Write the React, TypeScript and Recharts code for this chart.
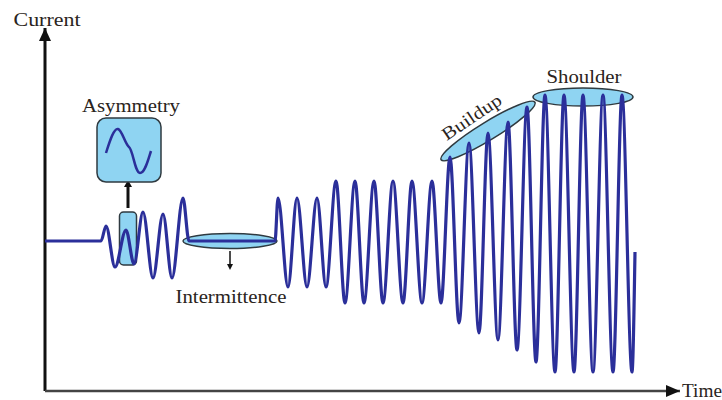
import { LineChart, Line, XAxis, YAxis, ReferenceLine, ReferenceDot } from 'recharts';

// waveform extrema (time units, current units; 0 = rest level)
const time = [
  0, 56, 61, 70, 81, 89, 98, 108, 118, 127, 138, 144, 230,
  233, 243, 252, 262, 272, 281,
  291, 300, 310, 319, 329, 338, 348, 358, 367, 377, 387, 396,
  405, 414, 424, 434, 443, 453, 463, 472, 482, 491,
  500, 510, 519, 529, 538, 548, 558, 568, 577, 587, 590,
];
const current = [
  0, 0, 15, -26, 11, -23, 29, -37, 27, -37, 43, 0, 0,
  43, -46, 43, -46, 43, -46,
  60, -62, 60, -62, 60, -62, 60, -62, 60, -62, 60, -62,
  84, -82, 98, -92, 108, -99, 119, -109, 134, -121,
  146, -131, 146, -131, 146, -131, 146, -131, 146, -131, -11,
];

const labels = {
  yAxis: 'Current',
  xAxis: 'Time',
  asymmetry: 'Asymmetry',
  intermittence: 'Intermittence',
  buildup: 'Buildup',
  shoulder: 'Shoulder',
};

const data = time.map((t, i) => ({ t, c: current[i] }));

const WAVE = '#2b2f9a';
const FILL = '#8fd4f2';
const EDGE = '#2f3a40';
const TEXT = '#2a2420';
const FONT = '"Liberation Serif", "DejaVu Serif", serif';

const Label = ({ x, y, text, width, rotate }: any) => (
  <text
    x={x}
    y={y}
    textAnchor="middle"
    style={{ fontFamily: FONT, fontSize: 18 }}
    fill={TEXT}
    textLength={width}
    lengthAdjust="spacingAndGlyphs"
    transform={rotate ? `rotate(${rotate} ${x} ${y})` : undefined}
  >
    {text}
  </text>
);

export default function App() {
  return (
    <div style={{ position: 'absolute', left: 0, top: 0, width: 722, height: 400, background: '#fff' }}>
      <LineChart width={722} height={400} data={data} margin={{ top: 28, right: 42, left: 45, bottom: 9 }}>
        <XAxis type="number" dataKey="t" domain={[0, 635]} hide />
        <YAxis type="number" domain={[-150, 213]} hide />

        {/* annotation shapes sit under the wave */}
        <ReferenceDot
          x={83}
          y={3}
          ifOverflow="visible"
          zIndex={100}
          shape={(p: any) => (
            <g>
              <rect x={p.cx - 8.5} y={p.cy - 26} width={17} height={53} rx={4} fill={FILL} stroke={EDGE} strokeWidth={1.5} />
              <line x1={p.cx} y1={p.cy - 30} x2={p.cx} y2={p.cy - 52} stroke="#111" strokeWidth={3} />
              <path d={`M${p.cx - 4} ${p.cy - 51} L${p.cx + 4} ${p.cy - 51} L${p.cx} ${p.cy - 58} Z`} fill="#111" />
            </g>
          )}
        />
        <ReferenceDot
          x={185}
          y={0}
          ifOverflow="visible"
          zIndex={100}
          shape={(p: any) => (
            <g>
              <ellipse cx={p.cx} cy={p.cy} rx={47} ry={7.5} fill={FILL} stroke={EDGE} strokeWidth={1.5} />
              <line x1={p.cx} y1={p.cy + 10} x2={p.cx} y2={p.cy + 24} stroke="#111" strokeWidth={1.5} />
              <path d={`M${p.cx - 3} ${p.cy + 23} L${p.cx + 3} ${p.cy + 23} L${p.cx} ${p.cy + 29} Z`} fill="#111" />
            </g>
          )}
        />
        <ReferenceDot
          x={443}
          y={110}
          ifOverflow="visible"
          zIndex={100}
          shape={(p: any) => (
            <ellipse cx={p.cx} cy={p.cy} rx={55} ry={9} transform={`rotate(-31.5 ${p.cx} ${p.cy})`} fill={FILL} stroke={EDGE} strokeWidth={1.5} />
          )}
        />
        <ReferenceDot
          x={538}
          y={144}
          ifOverflow="visible"
          zIndex={100}
          shape={(p: any) => <ellipse cx={p.cx} cy={p.cy} rx={50} ry={9} fill={FILL} stroke={EDGE} strokeWidth={1.5} />}
        />

        {/* axes with arrow heads */}
        <ReferenceLine x={0} stroke="#111" strokeWidth={3} />
        <ReferenceLine y={-150} stroke="#444" strokeWidth={2.5} />
        <ReferenceDot
          x={0}
          y={213}
          ifOverflow="visible"
          shape={(p: any) => <path d={`M${p.cx} ${p.cy} L${p.cx - 6} ${p.cy + 13} L${p.cx + 6} ${p.cy + 13} Z`} fill="#111" />}
        />
        <ReferenceDot
          x={635}
          y={-150}
          ifOverflow="visible"
          shape={(p: any) => <path d={`M${p.cx} ${p.cy} L${p.cx - 14} ${p.cy - 6} L${p.cx - 14} ${p.cy + 6} Z`} fill="#111" />}
        />

        <Line
          type="monotone"
          dataKey="c"
          stroke={WAVE}
          strokeWidth={3.2}
          dot={false}
          activeDot={false}
          isAnimationActive={false}
          zIndex={400}
        />

        {/* asymmetry inset */}
        <ReferenceDot
          x={84}
          y={91}
          ifOverflow="visible"
          shape={(p: any) => (
            <g>
              <rect x={p.cx - 32} y={p.cy - 32} width={64} height={64} rx={9} fill={FILL} stroke={EDGE} strokeWidth={1.5} />
              <path
                d={`M${p.cx - 23} ${p.cy + 3} C${p.cx - 19} ${p.cy - 10} ${p.cx - 15} ${p.cy - 22} ${p.cx - 11} ${p.cy - 21} C${p.cx - 7} ${p.cy - 20} ${p.cx - 4} ${p.cy - 6} ${p.cx} ${p.cy - 3} C${p.cx + 4} ${p.cy} ${p.cx + 6} ${p.cy + 23} ${p.cx + 11} ${p.cy + 23} C${p.cx + 16} ${p.cy + 23} ${p.cx + 19} ${p.cy + 10} ${p.cx + 22} ${p.cy + 1}`}
                fill="none"
                stroke={WAVE}
                strokeWidth={2.5}
              />
            </g>
          )}
        />

        {/* text */}
        <ReferenceDot x={2} y={214} ifOverflow="visible" shape={(p: any) => <Label x={p.cx} y={p.cy - 1} text={labels.yAxis} width={67} />} />
        <ReferenceDot x={657} y={-150} ifOverflow="visible" shape={(p: any) => <Label x={p.cx} y={p.cy + 6} text={labels.xAxis} width={40} />} />
        <ReferenceDot x={86} y={129} ifOverflow="visible" shape={(p: any) => <Label x={p.cx} y={p.cy} text={labels.asymmetry} width={98} />} />
        <ReferenceDot x={186} y={-62} ifOverflow="visible" shape={(p: any) => <Label x={p.cx} y={p.cy} text={labels.intermittence} width={111} />} />
        <ReferenceDot x={430} y={119} ifOverflow="visible" shape={(p: any) => <Label x={p.cx} y={p.cy} text={labels.buildup} width={68} rotate={-34} />} />
        <ReferenceDot x={539} y={158} ifOverflow="visible" shape={(p: any) => <Label x={p.cx} y={p.cy} text={labels.shoulder} width={75} />} />
      </LineChart>
    </div>
  );
}
